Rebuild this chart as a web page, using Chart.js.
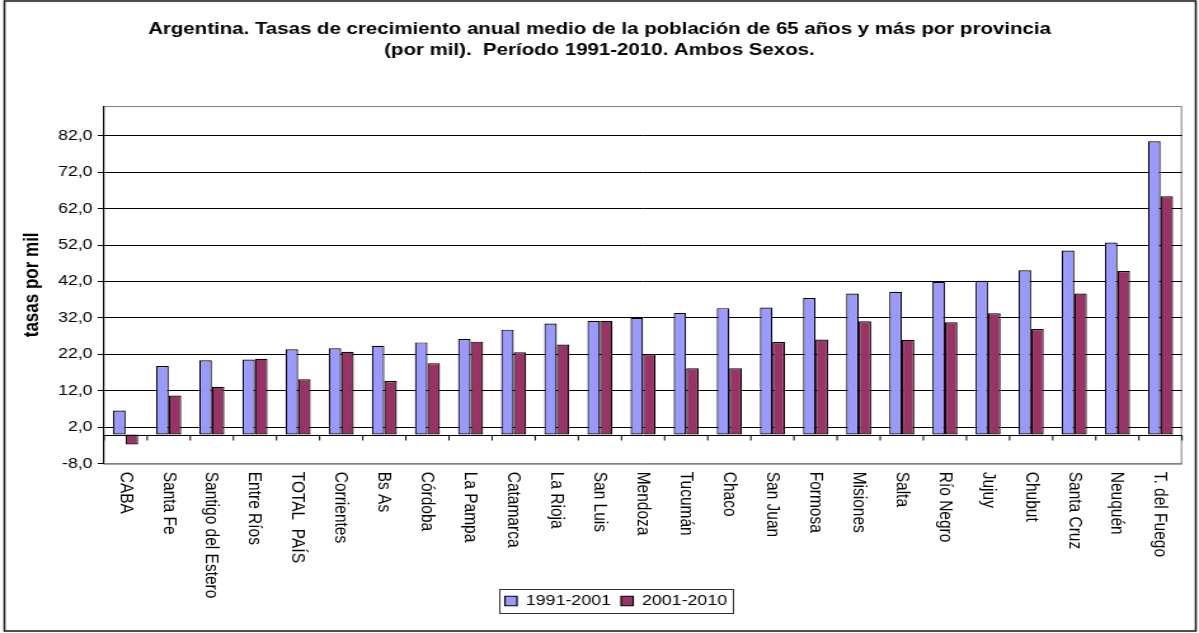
<!DOCTYPE html>
<html>
<head>
<meta charset="utf-8">
<script src="https://cdn.jsdelivr.net/npm/chart.js@4.4.1/dist/chart.umd.min.js"></script>
<style>
    html, body { margin: 0; padding: 0; background: #fff; overflow: hidden; }
    #wrap { width: 944px; height: 633px; transform: scaleX(1.2701); transform-origin: 0 0; }
    canvas { display: block; }
</style>
</head>
<body>
<div id="wrap"><canvas id="tasas" width="944" height="633"></canvas></div>
<script>
var provincias = ["CABA", "Santa Fe", "Santigo del Estero", "Entre Ríos", "TOTAL  PAÍS", "Corrientes", "Bs As",
    "Córdoba", "La Pampa", "Catamarca", "La Rioja", "San Luis", "Mendoza", "Tucumán", "Chaco", "San Juan",
    "Formosa", "Misiones", "Salta", "Río Negro", "Jujuy", "Chubut", "Santa Cruz", "Neuquén", "T. del Fuego"];
var tasas1991 = [6.6, 18.8, 20.4, 20.6, 23.4, 23.7, 24.4, 25.3, 26.2, 28.8, 30.5, 31.2, 32.0, 33.4, 34.7, 34.9,
    37.5, 38.7, 39.2, 41.9, 42.2, 45.1, 50.5, 52.7, 80.5];
var tasas2001 = [-2.7, 10.7, 13.1, 20.8, 15.2, 22.7, 14.7, 19.6, 25.5, 22.6, 24.7, 31.2, 22.1, 18.2, 18.2, 25.4,
    26.1, 31.1, 26.0, 30.8, 33.3, 29.0, 38.7, 44.9, 65.4];
var yTicks = [-8, 2, 12, 22, 32, 42, 52, 62, 72, 82];

var titulo = [
    "Argentina. Tasas de crecimiento anual medio de la población de 65 años y más por provincia",
    "(por mil).  Período 1991-2010. Ambos Sexos."
];

// marco, eje en cero, etiquetas verticales y recuadro de la leyenda
var extras = {
    id: 'extras',
    afterLayout: function(chart) {
        chart.titleBlock.left += 6.65;
        chart.titleBlock.right += 6.65;
        chart.legend.left += 19.65;
        chart.legend.right += 19.65;
    },
    beforeDraw: function(chart) {
        var ctx = chart.ctx;
        var a = chart.chartArea;
        ctx.save();
        ctx.fillStyle = '#fff';
        ctx.fillRect(0, 0, chart.width, chart.height);
        ctx.strokeStyle = '#222';
        ctx.lineWidth = 1.6;
        ctx.strokeRect(3.5, 1, 938, 630);
        ctx.strokeStyle = '#808080';
        ctx.lineWidth = 1;
        ctx.strokeRect(a.left, a.top + 0.5, a.right - a.left - 0.5, a.bottom - a.top);
        ctx.restore();
    },
    afterDatasetsDraw: function(chart) {
        var ctx = chart.ctx;
        var x = chart.scales.x, y = chart.scales.y;
        var y0 = Math.round(y.getPixelForValue(0)) + 0.5;
        var half = (x.getPixelForValue(1) - x.getPixelForValue(0)) / 2;
        ctx.save();
        ctx.strokeStyle = '#000';
        ctx.lineWidth = 1;
        ctx.beginPath();
        ctx.moveTo(chart.chartArea.left, y0);
        ctx.lineTo(chart.chartArea.right, y0);
        for (var i = 0; i <= provincias.length; i++) {
            var px = x.getPixelForValue(i) - half;
            ctx.moveTo(px, y0);
            ctx.lineTo(px, y0 + 5);
        }
        ctx.stroke();
        ctx.restore();
    },
    afterDraw: function(chart) {
        var ctx = chart.ctx;
        var x = chart.scales.x;
        ctx.save();
        ctx.fillStyle = '#000';
        ctx.font = '15.5px "Liberation Sans", Arial, sans-serif';
        ctx.textAlign = 'left';
        ctx.textBaseline = 'middle';
        provincias.forEach(function(p, i) {
            ctx.save();
            ctx.translate(x.getPixelForValue(i), chart.chartArea.bottom + 8);
            ctx.rotate(Math.PI / 2);
            ctx.fillText(p, 0, 0);
            ctx.restore();
        });
        var hb = chart.legend.legendHitBoxes;
        if (hb.length) {
            var last = hb[hb.length - 1];
            var cy = hb[0].top + hb[0].height / 2;
            ctx.strokeStyle = '#333';
            ctx.lineWidth = 1;
            ctx.strokeRect(hb[0].left - 4, Math.round(cy - 12) + 0.5, last.left + last.width - hb[0].left + 9, 24);
        }
        ctx.restore();
    }
};

var tasasChart = new Chart(document.getElementById('tasas'), {
    type: 'bar',
    data: {
        labels: provincias,
        datasets: [
            {
                label: '1991-2001',
                data: tasas1991,
                backgroundColor: '#9999FF',
                borderColor: '#000',
                borderWidth: 1.2,
                borderSkipped: false
            },
            {
                label: '2001-2010',
                data: tasas2001,
                backgroundColor: '#993366',
                borderColor: '#000',
                borderWidth: 1.2,
                borderSkipped: false
            }
        ]
    },
    plugins: [extras],
    options: {
        responsive: false,
        animation: false,
        devicePixelRatio: 1,
        layout: { padding: { left: 0, right: 13.3, top: 0, bottom: 15 } },
        datasets: { bar: { categoryPercentage: 0.58, barPercentage: 1 } },
        font: { family: '"Liberation Sans", Arial, sans-serif' },
        plugins: {
            tooltip: { enabled: false },
            title: {
                display: true,
                text: titulo,
                color: '#000',
                font: { size: 16.1, weight: 'bold', lineHeight: '21px' },
                padding: { top: 19.5, bottom: 44.5 }
            },
            legend: {
                position: 'bottom',
                labels: {
                    boxWidth: 9.5,
                    boxHeight: 9.5,
                    padding: 8,
                    color: '#000',
                    font: { size: 14 }
                }
            }
        },
        scales: {
            x: {
                grid: { display: false },
                border: { display: false },
                ticks: { display: false },
                afterFit: function(scale) { scale.height = 122.3; }
            },
            y: {
                min: -8,
                max: 90.2,
                afterBuildTicks: function(scale) {
                    scale.ticks = yTicks.map(function(v) { return { value: v }; });
                },
                afterFit: function(scale) { scale.width = 81.9; },
                border: { display: true, color: '#000', width: 1 },
                grid: {
                    color: function(c) { return c.tick && c.tick.value === -8 ? '#808080' : '#000'; },
                    tickColor: '#000',
                    tickLength: 5
                },
                ticks: {
                    color: '#000',
                    padding: 4,
                    font: { size: 14 },
                    callback: function(v) { return v.toFixed(1).replace('.', ','); }
                },
                title: {
                    display: true,
                    text: 'tasas por mil',
                    color: '#000',
                    font: { size: 17, weight: 'bold', lineHeight: 1.2 },
                    padding: { top: 14.8 }
                }
            }
        }
    }
});
</script>
</body>
</html>
